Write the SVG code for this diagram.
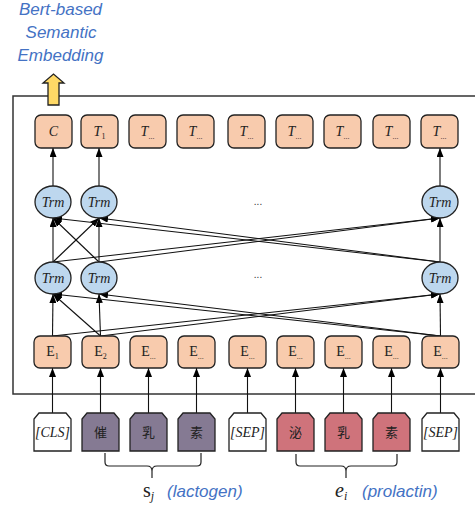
<svg xmlns="http://www.w3.org/2000/svg" width="475" height="508" viewBox="0 0 475 508">
<defs>
<marker id="ah" markerUnits="userSpaceOnUse" markerWidth="9" markerHeight="7" refX="9" refY="3.5" orient="auto">
<path d="M0,0 L9,3.5 L0,7 z" fill="#000"/>
</marker>
<style>
.box{fill:#f8cbad;stroke:#222;stroke-width:1.3}
.trm{fill:#bdd7ee;stroke:#222;stroke-width:1.3}
.tokw{fill:#ffffff;stroke:#222;stroke-width:1.3}
.tokp{fill:#857a93;stroke:#222;stroke-width:1.3}
.tokr{fill:#cf737b;stroke:#222;stroke-width:1.3}
.lbl{font-family:"Liberation Serif","DejaVu Serif",serif;font-size:14px;fill:#222;text-anchor:middle}
.it{font-style:italic}
.sub{font-size:8px}
.cjk{font-family:"Noto Sans CJK SC",sans-serif;font-size:13px;fill:#222;text-anchor:middle}
.blue{font-family:"Liberation Sans",Arial,sans-serif;font-style:italic;font-size:17px;fill:#4472c4}
.conn line{stroke:#111;stroke-width:1.1;marker-end:url(#ah)}
.dots{font-family:"Liberation Sans",sans-serif;font-size:10px;fill:#333;text-anchor:middle}
</style>
</defs>

<g id="title">
<text class="blue" x="60.5" y="15" text-anchor="middle">Bert-based</text>
<text class="blue" x="61" y="38" text-anchor="middle">Semantic</text>
<text class="blue" x="60.5" y="61" text-anchor="middle">Embedding</text>
</g>

<rect id="frame" x="13" y="96" width="475" height="298" fill="none" stroke="#333" stroke-width="1.5"/>

<g id="output-arrow">
<polygon points="48,105 48,83 43,83 53.5,74 64,83 59,83 59,105" fill="#ffd966" stroke="#222" stroke-width="1.3"/>
</g>

<g class="conn" id="connectors">
<line x1="52.5" y1="413" x2="52.5" y2="368"/>
<line x1="100.5" y1="413" x2="100.5" y2="368"/>
<line x1="148.5" y1="413" x2="148.5" y2="368"/>
<line x1="196.5" y1="413" x2="196.5" y2="368"/>
<line x1="247.5" y1="413" x2="247.5" y2="368"/>
<line x1="295.5" y1="413" x2="295.5" y2="368"/>
<line x1="343.5" y1="413" x2="343.5" y2="368"/>
<line x1="391.5" y1="413" x2="391.5" y2="368"/>
<line x1="440.5" y1="413" x2="440.5" y2="368"/>
<line x1="52.5" y1="336" x2="53" y2="294"/>
<line x1="100.5" y1="336" x2="53" y2="294"/>
<line x1="100.5" y1="336" x2="99" y2="294"/>
<line x1="440.5" y1="336" x2="53" y2="294"/>
<line x1="440.5" y1="336" x2="99" y2="294"/>
<line x1="52.5" y1="336" x2="440" y2="294"/>
<line x1="100.5" y1="336" x2="440" y2="294"/>
<line x1="440.5" y1="336" x2="440" y2="294"/>
<line x1="53" y1="262" x2="53" y2="218"/>
<line x1="53" y1="262" x2="99" y2="218"/>
<line x1="99" y1="262" x2="53" y2="218"/>
<line x1="99" y1="262" x2="99" y2="218"/>
<line x1="440" y1="262" x2="53" y2="218"/>
<line x1="440" y1="262" x2="99" y2="218"/>
<line x1="53" y1="262" x2="440" y2="218"/>
<line x1="99" y1="262" x2="440" y2="218"/>
<line x1="440" y1="262" x2="440" y2="218"/>
<line x1="53" y1="186" x2="53" y2="148"/>
<line x1="99" y1="186" x2="99" y2="148"/>
<line x1="440" y1="186" x2="440" y2="148"/>
</g>

<g id="T-row">
<g id="t1"><rect class="box" x="35" y="115" width="37" height="33" rx="6"/><text class="lbl it" x="53.5" y="136">C</text></g>
<g id="t2"><rect class="box" x="81" y="115" width="37" height="33" rx="6"/><text class="lbl it" x="99.5" y="136">T<tspan class="sub" dy="3" font-style="normal">1</tspan></text></g>
<g id="t3"><rect class="box" x="129" y="115" width="37" height="33" rx="6"/><text class="lbl it" x="147.5" y="136">T<tspan class="sub" dy="3" font-style="normal">...</tspan></text></g>
<g id="t4"><rect class="box" x="177" y="115" width="37" height="33" rx="6"/><text class="lbl it" x="195.5" y="136">T<tspan class="sub" dy="3" font-style="normal">...</tspan></text></g>
<g id="t5"><rect class="box" x="228" y="115" width="37" height="33" rx="6"/><text class="lbl it" x="246.5" y="136">T<tspan class="sub" dy="3" font-style="normal">...</tspan></text></g>
<g id="t6"><rect class="box" x="276" y="115" width="37" height="33" rx="6"/><text class="lbl it" x="294.5" y="136">T<tspan class="sub" dy="3" font-style="normal">...</tspan></text></g>
<g id="t7"><rect class="box" x="324" y="115" width="37" height="33" rx="6"/><text class="lbl it" x="342.5" y="136">T<tspan class="sub" dy="3" font-style="normal">...</tspan></text></g>
<g id="t8"><rect class="box" x="373" y="115" width="37" height="33" rx="6"/><text class="lbl it" x="391.5" y="136">T<tspan class="sub" dy="3" font-style="normal">...</tspan></text></g>
<g id="t9"><rect class="box" x="421" y="115" width="37" height="33" rx="6"/><text class="lbl it" x="439.5" y="136">T<tspan class="sub" dy="3" font-style="normal">...</tspan></text></g>
</g>

<g id="trm-upper">
<g id="trm-u1"><ellipse class="trm" cx="53" cy="202" rx="18" ry="16"/><text class="lbl it" x="53" y="206.5">Trm</text></g>
<g id="trm-u2"><ellipse class="trm" cx="99" cy="202" rx="18" ry="16"/><text class="lbl it" x="99" y="206.5">Trm</text></g>
<g id="trm-u3"><ellipse class="trm" cx="440" cy="202" rx="18" ry="16"/><text class="lbl it" x="440" y="206.5">Trm</text></g>
<text class="dots" x="258" y="205">...</text>
</g>

<g id="trm-lower">
<g id="trm-l1"><ellipse class="trm" cx="53" cy="278" rx="18" ry="16"/><text class="lbl it" x="53" y="282.5">Trm</text></g>
<g id="trm-l2"><ellipse class="trm" cx="99" cy="278" rx="18" ry="16"/><text class="lbl it" x="99" y="282.5">Trm</text></g>
<g id="trm-l3"><ellipse class="trm" cx="440" cy="278" rx="18" ry="16"/><text class="lbl it" x="440" y="282.5">Trm</text></g>
<text class="dots" x="258" y="278">...</text>
</g>

<g id="E-row">
<g id="e1"><rect class="box" x="34" y="336" width="37" height="32" rx="6"/><text class="lbl" x="52.5" y="356">E<tspan class="sub" dy="3">1</tspan></text></g>
<g id="e2"><rect class="box" x="82" y="336" width="37" height="32" rx="6"/><text class="lbl" x="100.5" y="356">E<tspan class="sub" dy="3">2</tspan></text></g>
<g id="e3"><rect class="box" x="130" y="336" width="37" height="32" rx="6"/><text class="lbl" x="148.5" y="356">E<tspan class="sub" dy="3">...</tspan></text></g>
<g id="e4"><rect class="box" x="178" y="336" width="37" height="32" rx="6"/><text class="lbl" x="196.5" y="356">E<tspan class="sub" dy="3">...</tspan></text></g>
<g id="e5"><rect class="box" x="229" y="336" width="37" height="32" rx="6"/><text class="lbl" x="247.5" y="356">E<tspan class="sub" dy="3">...</tspan></text></g>
<g id="e6"><rect class="box" x="277" y="336" width="37" height="32" rx="6"/><text class="lbl" x="295.5" y="356">E<tspan class="sub" dy="3">...</tspan></text></g>
<g id="e7"><rect class="box" x="325" y="336" width="37" height="32" rx="6"/><text class="lbl" x="343.5" y="356">E<tspan class="sub" dy="3">...</tspan></text></g>
<g id="e8"><rect class="box" x="373" y="336" width="37" height="32" rx="6"/><text class="lbl" x="391.5" y="356">E<tspan class="sub" dy="3">...</tspan></text></g>
<g id="e9"><rect class="box" x="422" y="336" width="37" height="32" rx="6"/><text class="lbl" x="440.5" y="356">E<tspan class="sub" dy="3">...</tspan></text></g>
</g>

<g id="tokens">
<g id="tok1"><path class="tokw" d="M34,451 V419 L39,413 H66 L71,419 V451 Z"/><text class="lbl it" x="52.5" y="437">[CLS]</text></g>
<g id="tok2"><path class="tokp" d="M82,451 V419 L87,413 H114 L119,419 V451 Z"/><text class="cjk" x="100.5" y="437">催</text></g>
<g id="tok3"><path class="tokp" d="M130,451 V419 L135,413 H162 L167,419 V451 Z"/><text class="cjk" x="148.5" y="437">乳</text></g>
<g id="tok4"><path class="tokp" d="M178,451 V419 L183,413 H210 L215,419 V451 Z"/><text class="cjk" x="196.5" y="437">素</text></g>
<g id="tok5"><path class="tokw" d="M229,451 V419 L234,413 H261 L266,419 V451 Z"/><text class="lbl it" x="247.5" y="437">[SEP]</text></g>
<g id="tok6"><path class="tokr" d="M277,451 V419 L282,413 H309 L314,419 V451 Z"/><text class="cjk" x="295.5" y="437">泌</text></g>
<g id="tok7"><path class="tokr" d="M325,451 V419 L330,413 H357 L362,419 V451 Z"/><text class="cjk" x="343.5" y="437">乳</text></g>
<g id="tok8"><path class="tokr" d="M373,451 V419 L378,413 H405 L410,419 V451 Z"/><text class="cjk" x="391.5" y="437">素</text></g>
<g id="tok9"><path class="tokw" d="M422,451 V419 L427,413 H454 L459,419 V451 Z"/><text class="lbl it" x="440.5" y="437">[SEP]</text></g>
</g>

<g id="braces" fill="none" stroke="#222" stroke-width="1.2">
<path d="M105,453 V462 Q105,466 109,466 H147 Q152,466 152,471 V478 M152,471 Q152,466 157,466 H197 Q201,466 201,462 V453"/>
<path d="M296,454 V462 Q296,466 300,466 H341 Q346,466 346,471 V478 M346,471 Q346,466 351,466 H393 Q397,466 397,462 V454"/>
</g>

<g id="labels">
<text x="143" y="497" font-family="Liberation Serif,DejaVu Serif,serif" font-size="20" fill="#222">s<tspan font-size="12" font-style="italic" dy="3">j</tspan></text>
<text class="blue" x="167" y="497">(lactogen)</text>
<text x="335" y="497" font-family="Liberation Serif,DejaVu Serif,serif" font-size="20" font-style="italic" fill="#222">e<tspan font-size="12" dy="3">i</tspan></text>
<text class="blue" x="362" y="497">(prolactin)</text>
</g>
</svg>
